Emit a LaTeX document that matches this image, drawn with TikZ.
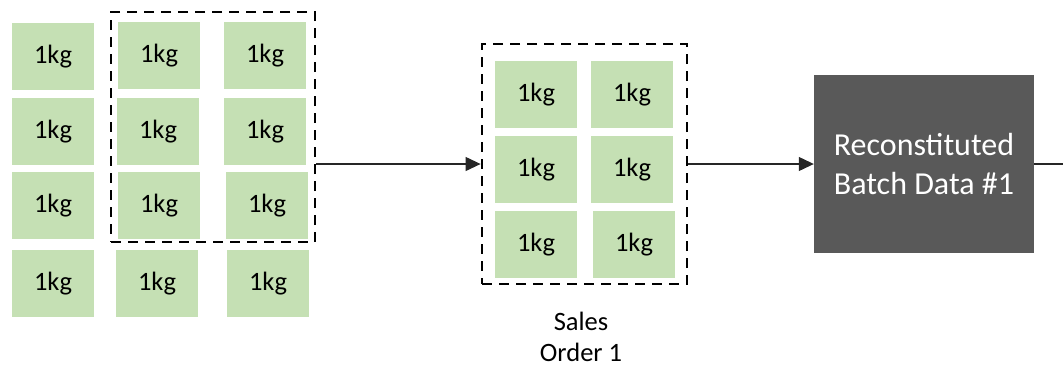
\documentclass[tikz,border=0pt]{standalone}
\usepackage{fontspec}
\setmainfont{Carlito}
\usetikzlibrary{arrows.meta}
\definecolor{kggreen}{HTML}{C5E0B4}
\definecolor{darkbox}{HTML}{595959}
\tikzset{
  kg/.style={fill=kggreen, minimum width=82pt, minimum height=67pt, inner sep=0pt, font=\fontsize{26.5}{31}\selectfont},
  group/.style={draw=black, line width=2.8pt, dash pattern=on 10pt off 7pt, minimum width=#1, inner sep=0pt},
  conn/.style={line width=1.2pt, draw=black!85},
  tip/.style={-{Triangle[length=15pt,width=14pt]}}
}
\begin{document}
\begin{tikzpicture}[x=1pt,y=-1pt]
\useasboundingbox (0,0) rectangle (1063,376);
% first group of boxes
\node[kg] (a1) at (53,56.5) {1kg};
\node[kg] (a2) at (53,131.5) {1kg};
\node[kg] (a3) at (53,205.5) {1kg};
\node[kg] (a4) at (53,283.5) {1kg};
\node[kg] (b1) at (159,55.5) {1kg};
\node[kg] (b2) at (158,131.5) {1kg};
\node[kg] (b3) at (159,205.5) {1kg};
\node[kg] (b4) at (157,283.5) {1kg};
\node[kg] (c1) at (265,55.5) {1kg};
\node[kg] (c2) at (265,131.5) {1kg};
\node[kg] (c3) at (267,205.5) {1kg};
\node[kg] (c4) at (268,283.5) {1kg};
\node[group=204pt, minimum height=230pt] (d1) at (213,127) {};
% sales order group
\node[kg] (s1) at (536,94.5) {1kg};
\node[kg] (s2) at (632,94.5) {1kg};
\node[kg] (s3) at (536,169.5) {1kg};
\node[kg] (s4) at (632,169.5) {1kg};
\node[kg] (s5) at (536,244.5) {1kg};
\node[kg] (s6) at (634,244.5) {1kg};
\node[group=205pt, minimum height=240pt] (d2) at (584.5,164) {};
\node[align=center, font=\fontsize{26.5}{31}\selectfont] (lbl) at (581,337) {Sales\\Order 1};
% reconstituted batch
\node[fill=darkbox, minimum width=220pt, minimum height=178pt, inner sep=0pt, text=white, align=center, font=\fontsize{32}{39}\selectfont] (rb) at (924,164) {Reconstituted\\Batch Data \#1};
\coordinate (out) at (1063,164);
% connectors
\draw[conn, tip] (d1.east |- d2.west) -- (d2.west);
\draw[conn, tip] (d2.east) -- (rb.west);
\draw[conn] (rb.east) -- (out);
\end{tikzpicture}
\end{document}
